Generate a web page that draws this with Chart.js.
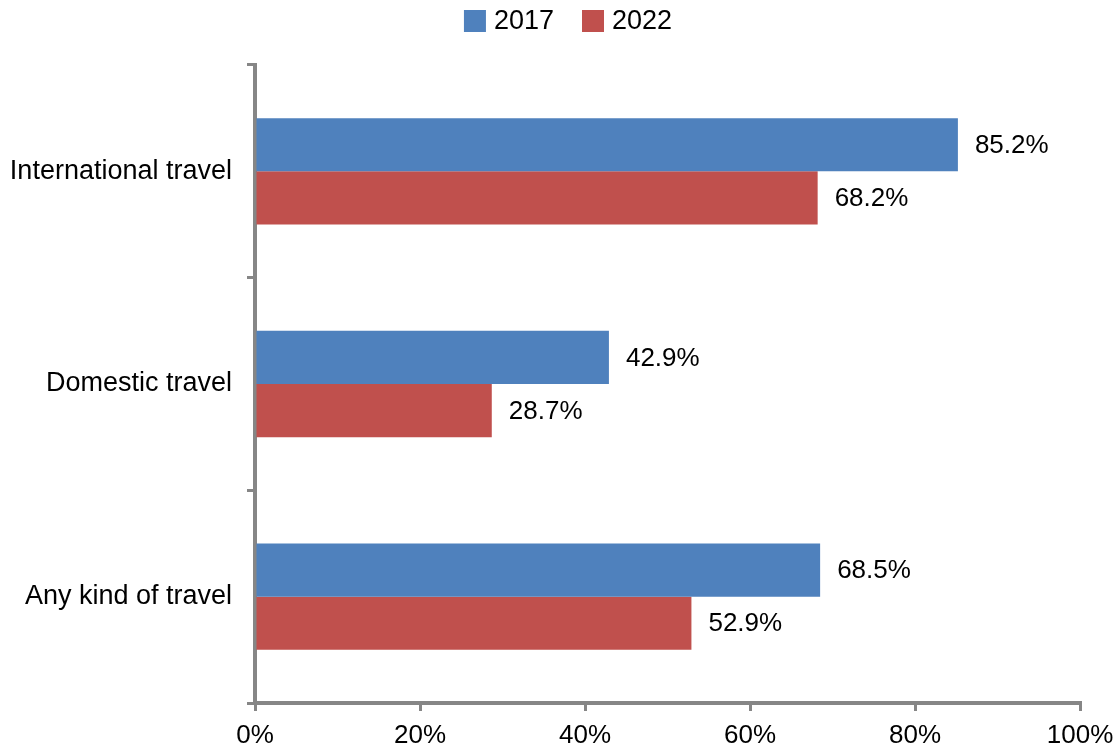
<!DOCTYPE html>
<html>
<head>
<meta charset="utf-8">
<title>Travel 2017 vs 2022</title>
<script src="https://cdn.jsdelivr.net/npm/chart.js@4/dist/chart.umd.min.js"></script>
<style>
  html, body { margin: 0; padding: 0; background: #fff; }
  #chart { display: block; }
</style>
</head>
<body>
<canvas id="chart" width="1118" height="747"></canvas>
<script>
const categories = ['International travel', 'Domestic travel', 'Any kind of travel'];
const years = ['2017', '2022'];
const values2017 = [85.2, 42.9, 68.5];
const values2022 = [68.2, 28.7, 52.9];
const xTicks = [0, 20, 40, 60, 80, 100];

const FONT = 'Arial, "Liberation Sans", sans-serif';
const axisGray = '#868686';

// writes the value next to the end of each bar
const valueLabels = {
    id: 'valueLabels',
    afterDatasetsDraw(chart) {
        const ctx = chart.ctx;
        ctx.save();
        ctx.font = '26px ' + FONT;
        ctx.fillStyle = '#000';
        ctx.textAlign = 'left';
        ctx.textBaseline = 'middle';
        chart.data.datasets.forEach((ds, i) => {
            chart.getDatasetMeta(i).data.forEach((bar, j) => {
                ctx.fillText(ds.data[j].toFixed(1) + '%', bar.x + 17, bar.y + 1);
            });
        });
        ctx.restore();
    }
};

// simple legend row above the plot: square swatch, small gap, year
const topLegend = {
    id: 'topLegend',
    afterDraw(chart) {
        const ctx = chart.ctx;
        const box = 22, gap = 8, itemGap = 28;
        ctx.save();
        ctx.font = '27px ' + FONT;
        ctx.textBaseline = 'middle';
        const items = chart.data.datasets.map(ds => ({
            text: ds.label, color: ds.backgroundColor, w: ctx.measureText(ds.label).width
        }));
        const total = items.reduce((s, it) => s + box + gap + it.w, 0) + itemGap * (items.length - 1);
        let x = 568 - total / 2;
        const y = 21;
        items.forEach(it => {
            ctx.fillStyle = it.color;
            ctx.fillRect(x, y - box / 2, box, box);
            ctx.fillStyle = '#000';
            ctx.fillText(it.text, x + box + gap, y + 1);
            x += box + gap + it.w + itemGap;
        });
        ctx.restore();
    }
};

const ctx = document.getElementById('chart').getContext('2d');
new Chart(ctx, {
    type: 'bar',
    data: {
        labels: categories,
        datasets: [
            { label: years[0], data: values2017, backgroundColor: '#4F81BD' },
            { label: years[1], data: values2022, backgroundColor: '#C0504D' }
        ]
    },
    options: {
        indexAxis: 'y',
        responsive: false,
        animation: false,
        categoryPercentage: 0.5,
        barPercentage: 1.0,
        layout: { padding: { top: 65, right: 38, left: 0, bottom: 0 } },
        plugins: {
            legend: { display: false },
            tooltip: { enabled: false }
        },
        scales: {
            x: {
                min: 0,
                max: 100,
                afterBuildTicks(scale) {
                    scale.ticks = xTicks.map(v => ({ value: v }));
                },
                afterFit(scale) {
                    scale.height = 44;
                    scale.paddingRight = 0;
                },
                border: { color: axisGray, width: 4 },
                grid: {
                    drawOnChartArea: false,
                    color: axisGray,
                    lineWidth: 3,
                    tickLength: 8
                },
                ticks: {
                    color: '#000',
                    padding: 9,
                    font: { family: FONT, size: 26 },
                    callback: v => v + '%'
                }
            },
            y: {
                afterFit(scale) { scale.width = 255; },
                border: { color: axisGray, width: 4 },
                grid: {
                    offset: true,
                    drawOnChartArea: false,
                    color: axisGray,
                    lineWidth: 3,
                    tickLength: 8
                },
                ticks: {
                    color: '#000',
                    padding: 15,
                    font: { family: FONT, size: 27 }
                }
            }
        }
    },
    plugins: [valueLabels, topLegend]
});
</script>
</body>
</html>
